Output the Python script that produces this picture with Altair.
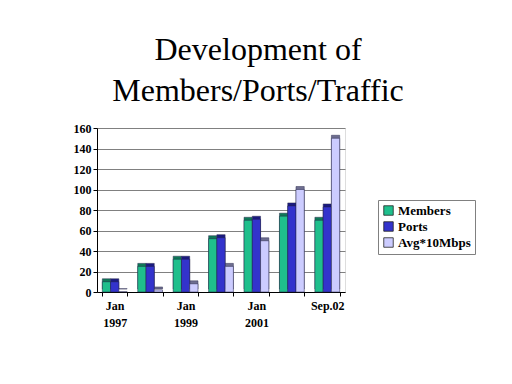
import altair as alt
import pandas as pd
import json

categories = ["Jan 1997", "Jan 1998", "Jan 1999", "Jan 2000", "Jan 2001", "Jan 2002", "Sep.02"]
tick_labels = [["Jan", "1997"], [""], ["Jan", "1999"], [""], ["Jan", "2001"], [""], ["Sep.02"]]
series = ["Members", "Ports", "Avg*10Mbps"]
members = [10, 25, 32, 52, 70, 74, 70]
ports = [10, 25, 32, 53, 71, 84, 83]
avg10 = [0.3, 2, 8, 25, 50, 100, 150]

front_colors = ["#1FBF8C", "#3333CC", "#CCCCFF"]
side_colors = ["#0E7A58", "#1A1A80", "#6E6E90"]

rows = []
for i, c in enumerate(categories):
    for s, vals, sc in zip(series, [members, ports, avg10], side_colors):
        rows.append({"cat": c, "series": s, "value": vals[i], "side": sc})
df = pd.DataFrame(rows)

FONT = "Times New Roman, Liberation Serif, serif"
label_expr = "%s[indexof(%s, datum.value)]" % (json.dumps(tick_labels), json.dumps(categories))

x_enc = alt.X("cat:N", sort=categories,
              scale=alt.Scale(paddingInner=0.3, paddingOuter=0.15),
              axis=alt.Axis(title=None, labelAngle=0, labelExpr=label_expr,
                            labelFont=FONT, labelFontWeight="bold", labelFontSize=12,
                            labelColor="black", labelLineHeight=17, labelPadding=4,
                            tickBand="extent", tickSize=4, tickColor="black",
                            domainColor="black", grid=False))
y_enc = alt.Y("value:Q", scale=alt.Scale(domain=[0, 160]),
              axis=alt.Axis(title=None, values=list(range(0, 161, 20)),
                            labelFont=FONT, labelFontWeight="bold", labelFontSize=12,
                            labelColor="black", tickSize=4, tickColor="black",
                            domainColor="black", gridColor="#808080", gridWidth=1,
                            labelPadding=2))
xo = alt.XOffset("series:N", sort=series, scale=alt.Scale(paddingInner=0, paddingOuter=0))

base = alt.Chart(df)

side = base.mark_bar(xOffset=3, x2Offset=3, yOffset=-3, y2Offset=-3,
                     stroke="#333355", strokeWidth=0.5).encode(
    x=x_enc, y=y_enc, xOffset=xo,
    color=alt.Color("side:N", scale=None, legend=None),
)

front = base.mark_bar(stroke="#222244", strokeWidth=0.5).encode(
    x=x_enc, y=y_enc, xOffset=xo,
    fill=alt.Fill("series:N", sort=series,
                  scale=alt.Scale(domain=series, range=front_colors),
                  legend=alt.Legend(title=None, orient="none", legendX=281, legendY=72,
                                    labelFont=FONT, labelFontWeight="bold", labelFontSize=13,
                                    labelColor="black", symbolType="square", symbolSize=90,
                                    symbolStrokeColor="#222222", symbolStrokeWidth=0.8,
                                    strokeColor="#808080", padding=4, rowPadding=2,
                                    labelOffset=3)),
)

chart = alt.layer(side, front).properties(
    width=248, height=164,
    autosize=alt.AutoSizeParams(type="none"),
    padding={"left": 89, "top": 120, "right": 159, "bottom": 84},
    title=alt.TitleParams(["Development of", "Members/Ports/Traffic"],
                          font=FONT, fontSize=32, fontWeight="normal", color="black",
                          anchor="middle", frame="group", dx=37, offset=14, lineHeight=41),
).configure_view(stroke="#808080").configure(
    background="white", font=FONT
).configure_axis(labelFont=FONT).configure_legend(labelFont=FONT)

chart.save("out.html", embed_options={"renderer": "svg", "actions": False})
